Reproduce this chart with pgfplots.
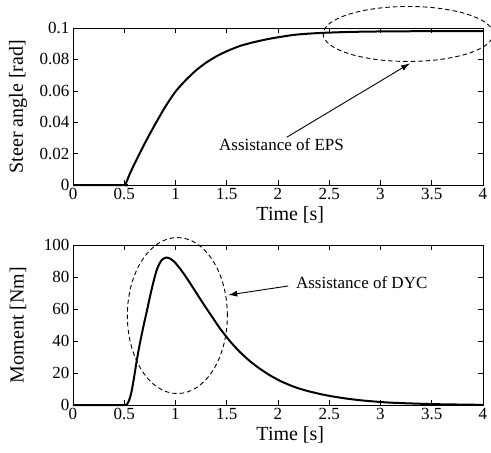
\documentclass[border=0pt]{standalone}
\usepackage{fontspec}
\setmainfont{Liberation Serif}
\usepackage{pgfplots}
\pgfplotsset{compat=1.18}
\usetikzlibrary{arrows.meta}
\pgfplotsset{
  myaxis/.style={
    scale only axis, width=410pt, anchor=south west,
    xmin=0, xmax=4,
    xtick={0,0.5,1,1.5,2,2.5,3,3.5,4},
    xticklabels={0,0.5,1,1.5,2,2.5,3,3.5,4},
    tick label style={font=\fontsize{17}{20}\selectfont},
    label style={font=\fontsize{20}{24}\selectfont},
    /pgf/number format/assume math mode=true,
    axis line style={line width=0.8pt},
    tick style={line width=0.6pt, black},
    major tick length=5pt,
    clip=false,
    xlabel={Time [s]},
  }
}
\begin{document}
\begin{tikzpicture}
\path[use as bounding box] (0,0) rectangle (491pt,-453pt);
\begin{axis}[myaxis, at={(73pt,-185pt)}, height=157pt,
  ymin=0, ymax=0.1,
  ytick={0,0.02,0.04,0.06,0.08,0.1},
  yticklabels={0,0.02,0.04,0.06,0.08,0.1},
  ylabel={Steer angle [rad]},
  xlabel style={at={(axis description cs:0.53,-0.191)}, anchor=center},
  ylabel style={at={(axis description cs:-0.134,0.5)}, anchor=center},
]
\addplot[black, line width=2pt, smooth, tension=0.4] coordinates {
(0,0)(0.5,0)(0.51,0)(0.55,0.0065)(0.6,0.0135)(0.7,0.0265)(0.8,0.0385)(0.9,0.0498)(1.0,0.0595)(1.1,0.0668)(1.2,0.0730)(1.3,0.0780)(1.4,0.0820)(1.5,0.0852)(1.63,0.0886)(1.76,0.0909)(1.89,0.0928)(2.02,0.0943)(2.18,0.0958)(2.4,0.0968)(2.7,0.0975)(3.0,0.0978)(3.5,0.098)(4,0.098)
};
\draw[dashed, line width=0.9pt, dash pattern=on 4.5pt off 3pt] (axis cs:3.27,0.0962) ellipse [x radius=85pt, y radius=27.5pt];
\draw[line width=0.9pt, -{Latex[length=9pt,width=6pt]}] (axis cs:2.085,0.0304) -- (axis cs:3.288,0.0775);
\node[font=\fontsize{17}{20}\selectfont, fill=white, inner sep=1pt] at (axis cs:2.034,0.0255) {Assistance of EPS};
\end{axis}
\begin{axis}[myaxis, at={(73pt,-405pt)}, height=160pt,
  ymin=0, ymax=100,
  ytick={0,20,40,60,80,100},
  ylabel={Moment [Nm]},
  xlabel style={at={(axis description cs:0.53,-0.1875)}, anchor=center},
  ylabel style={at={(axis description cs:-0.134,0.5)}, anchor=center},
]
\addplot[black, line width=2pt, smooth, tension=0.4] coordinates {
(0,0)(0.5,0)(0.52,0)(0.545,2.5)(0.57,8)(0.595,17)(0.62,27)(0.645,36)(0.67,44)(0.695,51.5)(0.72,58.5)(0.745,66)(0.77,73)(0.795,79.5)(0.82,85)(0.845,88.5)(0.87,90.9)(0.91,92.2)(0.95,91.4)(0.99,89.4)(1.04,85.6)(1.09,81.2)(1.14,76.4)(1.2,70.4)(1.27,63.4)(1.35,55.8)(1.43,48.2)(1.53,40.0)(1.63,33.0)(1.73,27.2)(1.82,22.8)(1.92,18.6)(2.02,15.1)(2.12,12.3)(2.21,10.2)(2.31,8.4)(2.41,6.9)(2.51,5.6)(2.67,4.0)(2.83,2.8)(3.09,1.5)(3.48,0.6)(3.87,0.2)(4,0.1)
};
\draw[dashed, line width=0.9pt, dash pattern=on 4.5pt off 3pt] (axis cs:1.018,55.9) ellipse [x radius=50pt, y radius=78pt];
\draw[line width=0.9pt, -{Latex[length=9pt,width=6pt]}] (axis cs:2.10,74.4) -- (axis cs:1.515,68.75);
\node[font=\fontsize{17}{20}\selectfont] at (axis cs:2.817,76.3) {Assistance of DYC};
\end{axis}
\end{tikzpicture}
\end{document}
